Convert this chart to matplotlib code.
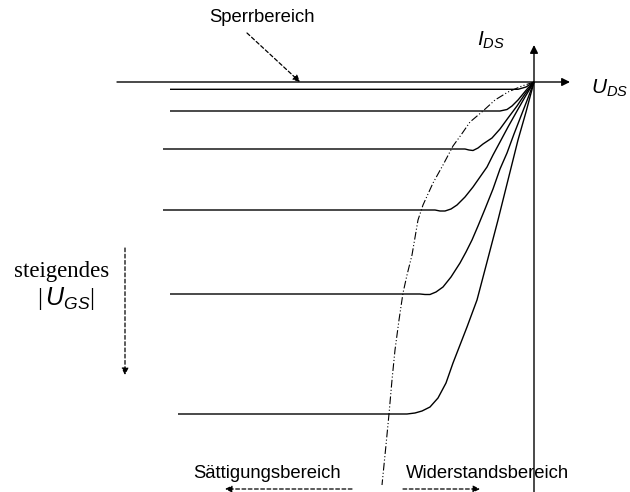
import matplotlib.pyplot as plt

plt.rcParams['font.family'] = ['Liberation Sans', 'DejaVu Sans']
plt.rcParams['mathtext.fontset'] = 'custom'
plt.rcParams['mathtext.it'] = 'Liberation Sans:italic'
plt.rcParams['mathtext.rm'] = 'Liberation Serif'

# Kennlinien (U_DS, I_DS), Ursprung = (0, 0)
u1 = [-364, -16, -8, -4, 0]
i1 = [-7.3, -7.3, -5, -2.5, 0]
u2 = [-364, -34, -27, -22, -16, -11, -6, 0]
i2 = [-29, -29, -27.5, -24, -18, -12, -6, 0]
u3 = [-371, -69, -65, -61, -56, -51, -42, -34, -26, -17, -9, 0]
i3 = [-67, -67, -68, -68.5, -66, -62, -56, -47, -36, -24, -12, 0]
u4 = [-371, -99, -94, -89, -83, -77, -69, -61, -54, -47, -41, -34, -26, -17, -9, 0]
i4 = [-128, -128, -129, -129, -127, -123, -115, -105, -95, -85, -73, -60, -45, -29, -15, 0]
u5 = [-364, -114, -109, -104, -98, -91, -83, -74, -68, -62, -56, -49, -41, -34, -27, -20, -13, -6, 0]
i5 = [-212, -212, -212.5, -212.5, -210, -205, -195, -181, -170, -158, -144, -127, -107, -87, -71, -52, -34, -16, 0]
u6 = [-356, -127, -119, -112, -104, -96, -88, -81, -74, -67, -57, -47, -36, -26, -16, -8, 0]
i6 = [-332, -332, -331, -329, -325, -316, -301, -281, -263, -245, -218, -180, -138, -98, -58, -30, 0]
kurven_u = [u1, u2, u3, u4, u5, u6]
kurven_i = [i1, i2, i3, i4, i5, i6]

# Grenze Saettigung / Widerstandsbereich
grenze_u = [0, -12, -26, -39, -51, -64, -73, -81, -91, -101, -111, -116, -122, -127, -131, -135, -139, -142, -145, -148, -150, -152]
grenze_i = [0, -4, -10, -18, -29, -40, -53, -64, -83, -101, -123, -138, -173, -193, -211, -238, -268, -298, -332, -363, -383, -403]

fig = plt.figure(figsize=(6.3, 4.92), dpi=100)
ax = fig.add_axes([0, 0, 1, 1])
ax.set_xlim(-534, 96)
ax.set_ylim(-410, 82)
ax.axis('off')

# Achsen
ax.annotate('', xy=(36, 0), xytext=(-417, 0),
            arrowprops=dict(arrowstyle='-|>', lw=1, color='black', mutation_scale=12, shrinkA=0, shrinkB=0))
ax.annotate('', xy=(0, 37), xytext=(0, -412),
            arrowprops=dict(arrowstyle='-|>', lw=1, color='black', mutation_scale=12, shrinkA=0, shrinkB=0))
ax.text(-43, 42, r'$I_{DS}$', fontsize=15, ha='center', va='center')
ax.text(76, -6, r'$U_{DS}$', fontsize=15, ha='center', va='center')

for u, i in zip(kurven_u, kurven_i):
    ax.plot(u, i, color='black', lw=1.0, solid_capstyle='butt')

ax.plot(grenze_u, grenze_i, color='black', lw=0.8, dashes=[7, 2, 1, 2, 1, 2])

# Beschriftungen
dash_arrow = dict(arrowstyle='-|>', lw=0.9, color='black', linestyle=(0, (3, 2)),
                  mutation_scale=10, shrinkA=0, shrinkB=0)
ax.text(-272, 65, 'Sperrbereich', fontsize=13.3, ha='center', va='center')
ax.annotate('', xy=(-234, 0), xytext=(-287, 49), arrowprops=dash_arrow)

ax.text(-472, -190, 'steigendes', fontsize=16.5, family='Liberation Serif', ha='center', va='center')
ax.text(-468, -216, r'$\mathrm{|}\,U_{GS}\mathrm{|}$', fontsize=18, ha='center', va='center')
ax.annotate('', xy=(-409, -293), xytext=(-409, -166), arrowprops=dash_arrow)

ax.text(-267, -391, 'Sättigungsbereich', fontsize=13.3, ha='center', va='center')
ax.annotate('', xy=(-309, -407), xytext=(-182, -407), arrowprops=dash_arrow)
ax.text(-47, -391, 'Widerstandsbereich', fontsize=13.3, ha='center', va='center')
ax.annotate('', xy=(-54, -407), xytext=(-131, -407), arrowprops=dash_arrow)

plt.savefig('out.png', dpi=100)
